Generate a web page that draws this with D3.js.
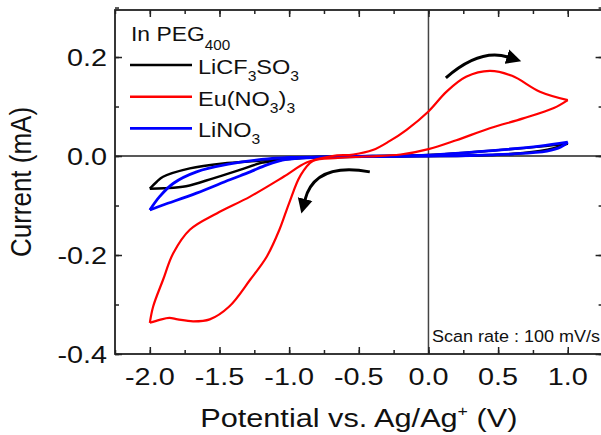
<!DOCTYPE html>
<html><head><meta charset="utf-8">
<script src="https://cdn.jsdelivr.net/npm/d3@7/dist/d3.min.js"></script>
<style>body{margin:0;background:#fff}svg{display:block}text{font-family:"Liberation Sans",Arial,sans-serif;fill:#111}</style>
</head><body><svg id="c" width="601" height="435"></svg>
<script>
// ---- data ----
const xTicks = [-2.0, -1.5, -1.0, -0.5, 0.0, 0.5, 1.0];
const yTicks = [-0.4, -0.2, 0.0, 0.2];
const xLabels = ["-2.0","-1.5","-1.0","-0.5","0.0","0.5","1.0"];
const yLabels = ["-0.4","-0.2","0.0","0.2"];
const seriesNames = ["LiCF3SO3", "Eu(NO3)3", "LiNO3"];
// each series: sweep A (1.0 -> -2.0) and sweep B (-2.0 -> 1.0), [potential V, current mA]
const redA = [[1.0,0.113],[0.9,0.097],[0.68,0.076],[0.44,0.056],[0.2,0.032],[0.0,0.014],[-0.2,0.003],[-0.45,-0.001],[-0.65,-0.004],[-0.83,-0.010],[-0.92,-0.040],[-1.0,-0.095],[-1.07,-0.149],[-1.16,-0.203],[-1.28,-0.250],[-1.43,-0.304],[-1.57,-0.330],[-1.69,-0.334],[-1.80,-0.330],[-1.86,-0.327],[-1.93,-0.331],[-2.0,-0.337]];
const redB = [[-2.0,-0.337],[-1.976,-0.304],[-1.905,-0.250],[-1.833,-0.197],[-1.713,-0.149],[-1.52,-0.116],[-1.28,-0.082],[-1.04,-0.042],[-0.875,-0.013],[-0.69,0.000],[-0.54,0.003],[-0.40,0.012],[-0.28,0.030],[-0.157,0.053],[0.0,0.090],[0.13,0.130],[0.27,0.160],[0.44,0.172],[0.60,0.162],[0.80,0.130],[1.0,0.113]];
const blackA = [[1.0,0.025],[0.9,0.016],[0.68,0.006],[0.44,0.002],[0.2,0.000],[-0.2,-0.001],[-0.6,-0.002],[-0.8,-0.003],[-1.0,-0.006],[-1.2,-0.014],[-1.354,-0.028],[-1.545,-0.045],[-1.74,-0.061],[-1.9,-0.065],[-2.0,-0.066]];
const blackB = [[-2.0,-0.066],[-1.95,-0.052],[-1.905,-0.042],[-1.713,-0.025],[-1.474,-0.015],[-1.234,-0.010],[-1.0,-0.005],[-0.8,-0.002],[-0.4,0.000],[0.0,0.002],[0.5,0.012],[0.8,0.019],[1.0,0.025]];
const blueA = [[1.0,0.028],[0.95,0.018],[0.85,0.010],[0.6,0.004],[0.3,0.001],[0.0,0.000],[-0.5,-0.001],[-0.83,-0.003],[-1.02,-0.007],[-1.16,-0.018],[-1.28,-0.032],[-1.426,-0.048],[-1.665,-0.075],[-1.905,-0.099],[-2.0,-0.109]];
const blueB = [[-2.0,-0.109],[-1.93,-0.082],[-1.83,-0.055],[-1.665,-0.032],[-1.426,-0.016],[-1.2,-0.007],[-1.0,-0.003],[-0.6,-0.001],[0.0,0.002],[0.5,0.012],[0.8,0.020],[1.0,0.028]];
// scan direction arrows (start, control, end) in data coordinates
const arrowTop = [[0.125,0.158],[0.369,0.218],[0.570,0.200]];
const arrowLeft = [[-0.421,-0.032],[-0.816,-0.012],[-0.887,-0.089]];

// ---- chart ----
const svg = d3.select("#c");
const L = 115, R = 602.6, T = 10, B = 354;
const x = d3.scaleLinear().domain([-2.25, 1.25]).range([L, R]);
const y = d3.scaleLinear().domain([-0.4, 0.295]).range([B, T]);

const defs = svg.append("defs");
defs.append("clipPath").attr("id","clip").append("rect").attr("x",L).attr("y",T).attr("width",R-L).attr("height",B-T);
defs.append("marker").attr("id","ah").attr("markerUnits","userSpaceOnUse")
  .attr("viewBox","0 -8 16 16").attr("refX",1).attr("refY",0)
  .attr("markerWidth",16).attr("markerHeight",16).attr("orient","auto")
  .append("path").attr("d","M0,-7.5L15,0L0,7.5Z").attr("fill","#000");

// text helper with horizontal stretch (the reference is slightly widened)
function txt(parent, px, py, size, anchor, sx){
  return parent.append("text").attr("transform",`translate(${px},${py}) scale(${sx},1)`)
    .attr("text-anchor",anchor).attr("font-size",size);
}

// zero lines
svg.append("line").attr("x1",L).attr("x2",R).attr("y1",y(0)).attr("y2",y(0)).attr("stroke","#222").attr("stroke-width",1.5);
svg.append("line").attr("x1",x(0)).attr("x2",x(0)).attr("y1",T).attr("y2",B).attr("stroke","#444").attr("stroke-width",1.5);

// axes with inward ticks
const xMinor = d3.range(-2.25, 1.26, 0.25);
const yMinor = d3.range(-0.4, 0.31, 0.1);
function tickAxis(axisGen, tr){
  const g = svg.append("g").attr("transform",tr).call(axisGen);
  g.select(".domain").remove();
  g.selectAll("line").attr("stroke","#222").attr("stroke-width",1.5);
  return g;
}
tickAxis(d3.axisBottom(x).tickValues(xMinor).tickSize(-4).tickFormat(""), `translate(0,${B})`);
tickAxis(d3.axisBottom(x).tickValues(xTicks).tickSize(-7).tickFormat(""), `translate(0,${B})`);
tickAxis(d3.axisTop(x).tickValues(xMinor).tickSize(-4).tickFormat(""), `translate(0,${T})`);
tickAxis(d3.axisTop(x).tickValues(xTicks).tickSize(-7).tickFormat(""), `translate(0,${T})`);
tickAxis(d3.axisLeft(y).tickValues(yMinor).tickSize(-4).tickFormat(""), `translate(${L},0)`);
tickAxis(d3.axisLeft(y).tickValues(yTicks).tickSize(-7).tickFormat(""), `translate(${L},0)`);
tickAxis(d3.axisRight(y).tickValues(yMinor).tickSize(-4).tickFormat(""), `translate(${R},0)`);
tickAxis(d3.axisRight(y).tickValues(yTicks).tickSize(-7).tickFormat(""), `translate(${R},0)`);

// frame
svg.append("rect").attr("x",L).attr("y",T).attr("width",R-L).attr("height",B-T).attr("fill","none").attr("stroke","#222").attr("stroke-width",1.8);

// tick labels
xTicks.forEach((d,i)=>{ txt(svg, x(d), 385, 24, "middle", 1.2).text(xLabels[i]); });
yTicks.forEach((d,i)=>{ txt(svg, 107, y(d)+8.5, 24, "end", 1.2).text(yLabels[i]); });

// axis titles
const xt = txt(svg, (L+R)/2, 427, 26, "middle", 1.18);
xt.append("tspan").text("Potential vs. Ag/Ag");
xt.append("tspan").attr("font-size",15).attr("dy",-11).text("+");
xt.append("tspan").attr("dy",11).text(" (V)");
svg.append("text").attr("transform",`translate(31,${(T+B)/2}) scale(1.15,1) rotate(-90)`).attr("text-anchor","middle").attr("font-size",26).text("Current (mA)");

// curves
const line = d3.line().x(d=>x(d[0])).y(d=>y(d[1])).curve(d3.curveCatmullRom.alpha(0.5));
const plot = svg.append("g").attr("clip-path","url(#clip)");
const curves = [
  {d:[blackA,blackB], c:"#000000", w:2.4},
  {d:[blueA,blueB], c:"#0000ff", w:2.8},
  {d:[redA,redB], c:"#ff0000", w:2.2}
];
curves.forEach(s=>{
  s.d.forEach(seg=>{
    plot.append("path").attr("d",line(seg)).attr("fill","none").attr("stroke",s.c).attr("stroke-width",s.w).attr("stroke-linejoin","round");
  });
});

// arrows
function arrow(p){
  const path = d3.path();
  path.moveTo(x(p[0][0]),y(p[0][1]));
  path.quadraticCurveTo(x(p[1][0]),y(p[1][1]),x(p[2][0]),y(p[2][1]));
  svg.append("path").attr("d",path.toString()).attr("fill","none").attr("stroke","#000").attr("stroke-width",3).attr("marker-end","url(#ah)");
}
arrow(arrowTop);
arrow(arrowLeft);

// legend
const lg = svg.append("g");
const t0 = txt(lg, 131, 41, 21, "start", 1.09);
t0.append("tspan").text("In PEG");
t0.append("tspan").attr("font-size",14).attr("dy",9).text("400");
const legendItems = [
  {c:"#000000", parts:[["LiCF",0],["3",1],["SO",0],["3",1]]},
  {c:"#ff0000", parts:[["Eu(NO",0],["3",1],[")",0],["3",1]]},
  {c:"#0000ff", parts:[["LiNO",0],["3",1]]}
];
legendItems.forEach((it,i)=>{
  const yy = 65 + i*31.7;
  lg.append("line").attr("x1",130).attr("x2",192).attr("y1",yy).attr("y2",yy).attr("stroke",it.c).attr("stroke-width",2.6);
  const t = txt(lg, 198, yy+9, 21, "start", 1.12);
  let sub = 0;
  it.parts.forEach(p=>{
    const ts = t.append("tspan").text(p[0]);
    if(p[1] && !sub){ ts.attr("font-size",14).attr("dy",7); sub=1; }
    else if(!p[1] && sub){ ts.attr("dy",-7); sub=0; }
    else if(p[1]) ts.attr("font-size",14);
  });
});
txt(svg, 432, 342, 17, "start", 1.06).text("Scan rate : 100 mV/s");
</script></body></html>
